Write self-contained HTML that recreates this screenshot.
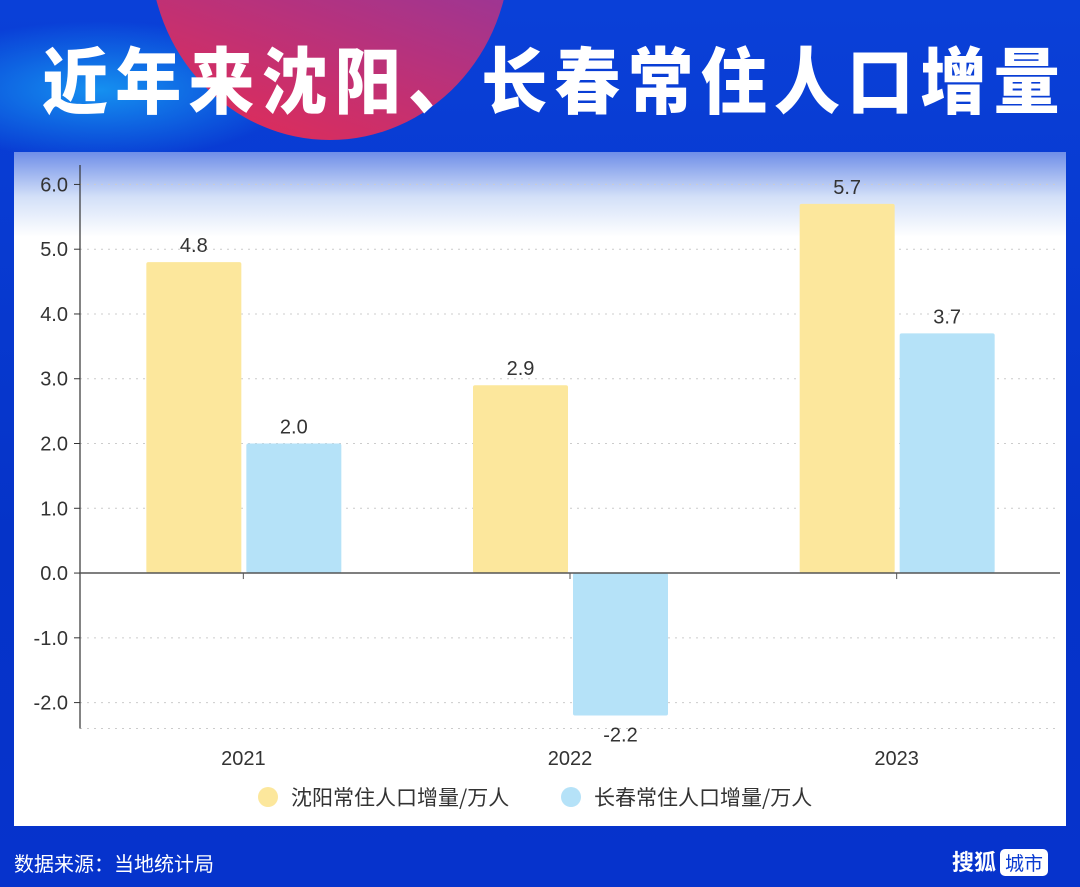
<!DOCTYPE html>
<html><head><meta charset="utf-8"><style>
body{margin:0;width:1080px;height:887px;overflow:hidden;font-family:"Liberation Sans","Noto Sans CJK SC",sans-serif;}
#bg{position:absolute;left:0;top:0;width:1080px;height:887px;background:linear-gradient(180deg,#0a40d8 0%,#0533c8 60%,#0633cc 100%);overflow:hidden}
#blob{position:absolute;left:150px;top:-240px;width:360px;height:380px;border-radius:50%;background:linear-gradient(200deg,#5d3fd0 0%,#a2358f 50%,#d92d5e 90%)}
#glow{position:absolute;left:-100px;top:20px;width:400px;height:140px;border-radius:50%;background:radial-gradient(#1590f0 0%,rgba(20,140,240,0) 70%)}
h1{position:absolute;left:42px;top:32px;margin:0;white-space:nowrap;color:#fff;font-family:"Noto Sans CJK SC",sans-serif;font-weight:900;font-size:66px;letter-spacing:7.2px;line-height:90px;transform:scaleY(1.1)}
#panel{position:absolute;left:14px;top:152px;width:1052px;height:674px;background:linear-gradient(180deg,#6f8ee8 0px,#d3e0f8 45px,#fff 85px,#fff 100%)}
#foot{position:absolute;left:14px;top:848px;color:#fff;font-size:20px;font-family:"Noto Sans CJK SC",sans-serif}
#logo{position:absolute;left:952px;top:845px;color:#fff;font-size:22px;font-family:"Noto Sans CJK SC",sans-serif;font-weight:bold}
#logo span{background:#fff;color:#0a3bd0;border-radius:5px;padding:0 5px;margin-left:4px;font-size:19px;font-weight:normal}
svg{position:absolute;left:0;top:0}
</style></head><body>
<div id="bg"><div id="glow"></div><div id="blob"></div></div>
<h1>近年来沈阳、长春常住人口增量</h1>
<div id="panel"></div>
<svg id="chart" width="1080" height="887"></svg>
<div id="foot">数据来源：当地统计局</div>
<div id="logo">搜狐<span>城市</span></div>
<script>
const categories=["2021","2022","2023"];
const shenyang=[4.8,2.9,5.7];
const changchun=[2.0,-2.2,3.7];
const yTicks=[-2,-1,0,1,2,3,4,5,6];
const seriesNames=["沈阳常住人口增量/万人","长春常住人口增量/万人"];
const colors=["#fce79c","#b5e2f8"];
const svg=document.getElementById('chart');const NS="http://www.w3.org/2000/svg";
const x0=80,x1=1060,yMin=-2.4,yMax=6.3,yTop=165,yBot=728.5;
const y=v=>yBot-(v-yMin)/(yMax-yMin)*(yBot-yTop);
const bw=(x1-x0)/categories.length;
const xc=i=>x0+bw*(i+0.5);
function mk(t,a,txt){const e=document.createElementNS(NS,t);for(const k in a)e.setAttribute(k,a[k]);if(txt!=null)e.textContent=txt;svg.appendChild(e);return e;}
yTicks.concat([yMin]).forEach(v=>{const g=mk('line',{x1:x0,x2:x1,y1:y(v),y2:y(v),stroke:'#ccc','stroke-dasharray':'2,5'});

});
yTicks.forEach(v=>{const t=mk('text',{x:x0-12,y:y(v)+7,'text-anchor':'end','font-size':20,fill:'#333'},v.toFixed(1));


mk('line',{x1:x0-6,x2:x0,y1:y(v),y2:y(v),stroke:'#333'});});
const ax=mk('line',{x1:x0,x2:x0,y1:yTop,y2:yBot,stroke:'#333','stroke-width':1.2});


[shenyang,changchun].forEach((s,si)=>{s.forEach((v,i)=>{
 const bx=si==0?xc(i)-97:xc(i)+3;const top=Math.min(y(v),y(0)),h=Math.abs(y(v)-y(0));
 const r=mk('rect',{x:bx,y:top,width:95,height:h,fill:colors[si],rx:2});
 
 
 const ly=v>=0?y(v)-10:y(v)+26;
 const l=mk('text',{x:bx+47.5,y:ly,'text-anchor':'middle','font-size':20,fill:'#333'},v.toFixed(1));
 
 });});
const zx=mk('line',{x1:x0,x2:x1,y1:y(0),y2:y(0),stroke:'#555','stroke-width':1.5});


categories.forEach((c,i)=>{mk('line',{x1:xc(i),x2:xc(i),y1:y(0),y2:y(0)+6,stroke:'#555'});
const t=mk('text',{x:xc(i),y:765,'text-anchor':'middle','font-size':20,fill:'#333'},c);

});
const lx=[268,571];
seriesNames.forEach((n,i)=>{const c=mk('circle',{cx:lx[i],cy:797,r:10,fill:colors[i]});


const t=mk('text',{x:lx[i]+23,y:805,'font-size':21,fill:'#333','font-family':'Noto Sans CJK SC, sans-serif'},n);

});
</script>
</body></html>
